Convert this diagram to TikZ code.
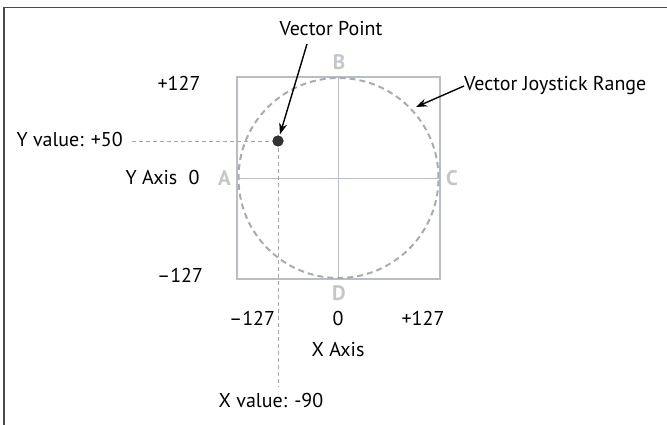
\documentclass[tikz,border=0pt]{standalone}
\usepackage{fontspec}
\setmainfont{PT Sans}
\usetikzlibrary{arrows.meta}
\definecolor{frame}{HTML}{4A4A4A}
\definecolor{sq}{HTML}{B9BEC4}
\definecolor{circ}{HTML}{A8ACB2}
\definecolor{letter}{HTML}{C3C7CC}
\definecolor{guide}{HTML}{A6A6A6}
\definecolor{dotc}{HTML}{333333}
\begin{document}
\begin{tikzpicture}[x=1pt,y=-1pt,
  lbl/.style={font=\fontsize{20}{20}\selectfont, inner sep=0pt, text=black},
  letterlbl/.style={font=\fontsize{21}{21}\selectfont\bfseries, inner sep=0pt, text=letter},
  sqbox/.style={draw=sq, line width=2.3pt},
  crossln/.style={draw=sq, line width=0.9pt},
  circln/.style={draw=circ, line width=2pt, dash pattern=on 6pt off 4pt},
  guideln/.style={draw=guide, line width=0.8pt, dash pattern=on 4pt off 3pt},
  arr/.style={draw=black, line width=1.4pt, -{Stealth[length=11pt,width=8pt]}},
  framel/.style={draw=frame, line width=1.5pt}
]
\useasboundingbox (0,0) rectangle (667,425);
\draw[framel] (4,426) -- (4,7.5) -- (668,7.5);
% square and cross
\node[sqbox, minimum width=203pt, minimum height=202pt, inner sep=0pt] (sqr) at (338.5,178) {};
\draw[crossln] (sqr.north) -- (sqr.south);
\draw[crossln] (sqr.west) -- (sqr.east);
\draw[circln] (338.5,178) circle[radius=100pt];
% letters
\node[letterlbl] (B) at (339,62) {B};
\node[letterlbl] (D) at (339,293) {D};
\node[letterlbl] (A) at (224.5,178) {A};
\node[letterlbl] (C) at (452,178) {C};
% vector point
\node[circle, fill=dotc, inner sep=0pt, minimum size=11pt] (dot) at (278,141) {};
\coordinate (ylend) at (132,141);
\coordinate (xlend) at (278,387);
\draw[guideln] (ylend) -- (dot.center);
\draw[guideln] (dot.center) -- (xlend);
\fill[dotc] (278,141) circle[radius=5.5pt];
% labels
\node[lbl] (vp) at (331,29) {Vector Point};
\coordinate (vpstart) at (307,44);
\draw[arr, shorten >=7pt] (vpstart) -- (dot.center);
\node[lbl, anchor=west] (vjr) at (464,86) {Vector Joystick Range};
\coordinate (vjrtip) at (416,107);
\draw[arr] (vjr.west) -- (vjrtip);
\node[lbl] (yp) at (179,83) {+127};
\node[lbl] (ym) at (180,275) {–127};
\node[lbl, anchor=east] (yval) at (123,140) {Y value: +50};
\node[lbl] (yaxis) at (151.5,178) {Y Axis};
\node[lbl] (y0) at (194,178) {0};
\node[lbl] (xm) at (252,318) {–127};
\node[lbl] (x0) at (338,318) {0};
\node[lbl] (xp) at (423,318) {+127};
\node[lbl] (xaxis) at (338,350) {X Axis};
\node[lbl] (xval) at (271,400) {X value: -90};
\end{tikzpicture}
\end{document}
